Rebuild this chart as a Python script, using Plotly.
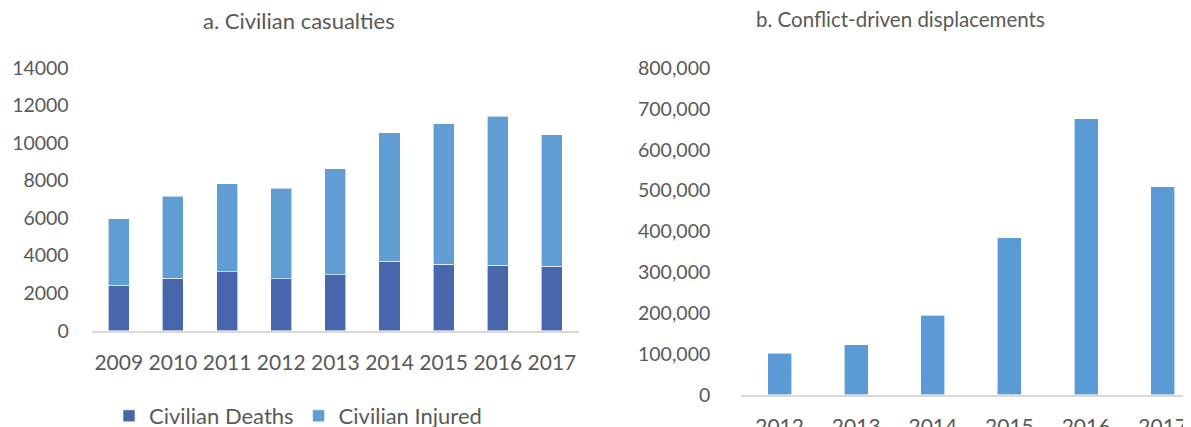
import plotly.graph_objects as go

years_a = ["2009", "2010", "2011", "2012", "2013", "2014", "2015", "2016", "2017"]
deaths = [2412, 2794, 3133, 2769, 2969, 3701, 3545, 3498, 3438]
injured = [3557, 4368, 4706, 4821, 5669, 6847, 7489, 7920, 7015]

years_b = ["2012", "2013", "2014", "2015", "2016", "2017"]
displacements = [101000, 122000, 195000, 384000, 676000, 510000]

# page body has an 8px margin, so the figure is sized to end exactly at the window edge
OFF = 8
W, H = 1191 - OFF, 427 - OFF
FONT = "Lato"
TXT = "#595959"
AXLINE = "#D9D9D9"

def px(x):
    return (x - OFF) / W

def py(y):
    return (H - (y - OFF)) / H

fig = go.Figure()
fig.add_trace(go.Bar(x=years_a, y=deaths, name="Civilian Deaths", marker_color="#4866AC",
                     marker_line=dict(color="white", width=0.6), width=0.39, xaxis="x", yaxis="y"))
fig.add_trace(go.Bar(x=years_a, y=injured, name="Civilian Injured", marker_color="#5F9DD2",
                     marker_line=dict(color="white", width=0.6), width=0.39, xaxis="x", yaxis="y"))
fig.add_trace(go.Bar(x=years_b, y=displacements, name="Displacements", marker_color="#5B9BD5",
                     marker_line=dict(color="white", width=0.6), width=0.313, showlegend=False,
                     xaxis="x2", yaxis="y2"))

xtickfont = dict(family=FONT, size=21, color=TXT)
ytickfont = dict(family=FONT, size=19.5, color=TXT)

fig.update_layout(
    template="none",
    width=W, height=H,
    margin=dict(l=0, r=0, t=0, b=0, autoexpand=False),
    paper_bgcolor="white", plot_bgcolor="white",
    barmode="stack",
    font=dict(family=FONT, color=TXT),
    xaxis=dict(domain=[px(91.7), px(579)], type="category", range=[-0.5, 8.5], automargin=False,
               showline=True, linecolor=AXLINE, linewidth=1.5, showgrid=False,
               ticks="", tickfont=xtickfont, ticklabelstandoff=12, anchor="y"),
    yaxis=dict(domain=[py(330.7), py(68)], range=[0, 14000], dtick=2000, automargin=False,
               showgrid=False, zeroline=False, showline=False, ticks="",
               tickfont=ytickfont, tickformat="d", ticklabelstandoff=22, anchor="x"),
    xaxis2=dict(domain=[px(741.3), 1.0], type="category", range=[-0.5, 5.37], automargin=False,
                showline=True, linecolor=AXLINE, linewidth=1.5, showgrid=False,
                ticks="", tickfont=xtickfont, ticklabelstandoff=12, anchor="y2"),
    yaxis2=dict(domain=[py(394.7), py(68.2)], range=[0, 800000], dtick=100000, automargin=False,
                showgrid=False, zeroline=False, showline=False, ticks="",
                tickfont=ytickfont, tickformat=",d", ticklabelstandoff=30, anchor="x2"),
    legend=dict(orientation="h", x=px(298), xanchor="center", y=py(416), yanchor="middle",
                font=dict(family=FONT, size=22, color=TXT), itemwidth=30,
                bgcolor="rgba(0,0,0,0)", traceorder="normal"),
    annotations=[
        dict(text="a. Civilian casualties", x=px(299), y=py(21), xref="paper", yref="paper",
             xanchor="center", yanchor="middle", showarrow=False,
             font=dict(family=FONT, size=22, color=TXT)),
        dict(text="b. Conflict-driven displacements", x=px(900.5), y=py(19), xref="paper", yref="paper",
             xanchor="center", yanchor="middle", showarrow=False,
             font=dict(family=FONT, size=20.5, color=TXT)),
    ],
)

fig.write_html("out.html")
